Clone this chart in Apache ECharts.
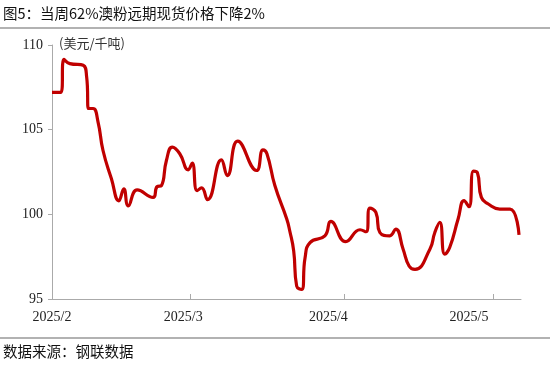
<!DOCTYPE html>
<html><head><meta charset="utf-8">
<script src="https://cdn.jsdelivr.net/npm/echarts@6/dist/echarts.min.js"></script>
<style>html,body{margin:0;padding:0;background:#fff}#c{width:550px;height:367px}</style>
</head><body><div id="c"></div>
<script>
// days counted from 2025-02-01
const days = [0,1.8,2.4,3.6,6.3,7.0,7.4,8.3,9.3,10.3,12.0,13.5,14.5,15.4,17.2,20.4,21.2,22.1,23.1,24.3,25.8,27.5,28.3,29.3,30.2,31.4,34.2,35.4,37.5,41.3,42.6,43.4,45.0,47.4,48.0,48.8,49.4,50.4,51.1,52.1,55.1,56.3,59.3,62.2,63.4,64.2,65.4,66.2,68.2,69.4,70.9,72.1,73.3,76.3,77.3,78.3,79.3,80.3,82.0,83.2,84.2,85.1,85.9,86.7,88.1,90.4,92.5,94.3];
const prices = [107.2,107.2,109.15,108.9,108.8,108.1,106.25,106.25,105.45,103.77,102.1,100.8,101.5,100.5,101.44,101.0,101.63,101.7,103.18,103.97,103.58,102.63,103.02,101.4,101.56,100.87,103.22,102.29,104.32,102.59,103.81,103.58,101.7,99.72,99.03,97.84,95.77,95.57,97.44,98.33,98.73,99.58,98.39,99.09,98.97,100.37,100.11,98.93,98.73,99.13,97.94,96.95,96.75,97.94,98.93,99.52,97.65,98.04,99.72,100.81,100.45,102.55,102.45,101.0,100.61,100.31,100.31,98.79];
const monthLabels = ['2025/2','2025/3','2025/4','2025/5'];
const monthLabelPos = [0,26.5,55.8,84.2];
const monthTickPos = [28,59,89];
const yTicks = [95,100,105,110];
const titleText = '图5：当周62%澳粉远期现货价格下降2%';
const unitText = '(美元/千吨)';
const sourceText = '数据来源：钢联数据';

const chart = echarts.init(document.getElementById('c'));
const serif = '"Liberation Serif","Times New Roman",serif';
const cjk = '"Noto Sans CJK SC","Noto Sans",sans-serif';
chart.setOption({
  animation:false,
  backgroundColor:'#fff',
  grid:{left:52,top:45,right:29,bottom:68,containLabel:false},
  graphic:[
    {type:'text',left:3,top:6,style:{text:titleText,font:'14.5px '+cjk,fill:'#111'}},
    {type:'line',shape:{x1:0,y1:28,x2:550,y2:28},style:{stroke:'#999',lineWidth:1.5}},
    {type:'text',left:59,top:37,style:{text:unitText,font:'13px '+cjk,fill:'#333'}},
    {type:'line',shape:{x1:0,y1:338,x2:550,y2:338},style:{stroke:'#999',lineWidth:1.5}},
    {type:'text',left:3,top:344,style:{text:sourceText,font:'14.5px '+cjk,fill:'#111'}}
  ],
  xAxis:{type:'value',min:0,max:94.7,
    axisLine:{show:true,lineStyle:{color:'#aaa',width:1}},
    axisTick:{show:true,inside:true,length:5,lineStyle:{color:'#aaa'}, customValues:monthTickPos},
    axisLabel:{show:true,customValues:monthLabelPos,margin:11,color:'#222',fontFamily:serif,fontSize:14,
      formatter:function(v){const i=monthLabelPos.indexOf(v);return i>=0?monthLabels[i]:'';}},
    splitLine:{show:false}},
  yAxis:{type:'value',min:yTicks[0],max:yTicks[yTicks.length-1],interval:5,
    axisLine:{show:true,lineStyle:{color:'#aaa',width:1}},
    axisTick:{show:true,inside:false,length:4,lineStyle:{color:'#aaa'}},
    axisLabel:{margin:9,color:'#222',fontFamily:serif,fontSize:14},
    splitLine:{show:false}},
  series:[{type:'line',data:days.map((d,i)=>[d,prices[i]]),smooth:0.5,symbol:'none',
    lineStyle:{color:'#C00000',width:3.2}}]
});
</script></body></html>
